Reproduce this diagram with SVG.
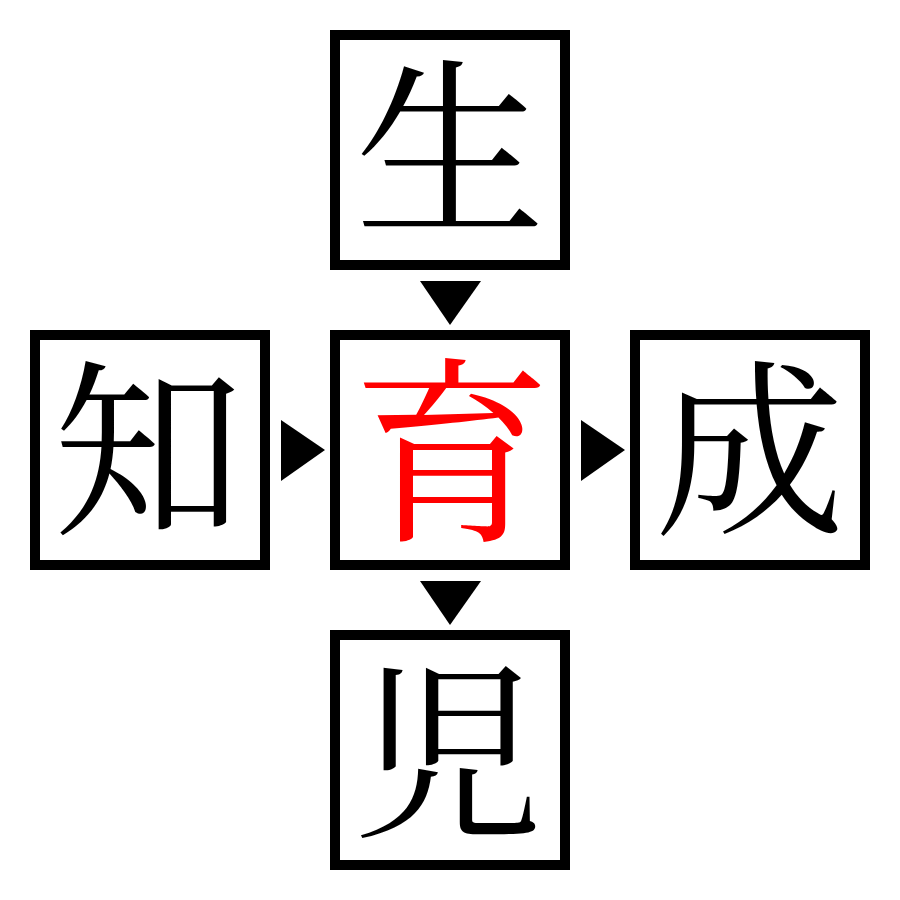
<svg xmlns="http://www.w3.org/2000/svg" width="900" height="900" viewBox="0 0 900 900">
<style>
.box{fill:#fff;stroke:#000;stroke-width:10}
.ch{font-family:"Noto Serif CJK JP","Noto Sans CJK JP",serif;font-size:190px;text-anchor:middle;fill:#000}
.red{fill:#ff0000;font-size:200px}
.arr{fill:#000}
</style>
<rect width="900" height="900" fill="#fff"/>
<g id="connectors">
<polygon class="arr" points="420,281 481,281 450,325"/>
<polygon class="arr" points="281,420 281,481 325,450"/>
<polygon class="arr" points="581,420 581,481 625,450"/>
<polygon class="arr" points="420,581 481,581 450,625"/>
</g>
<g id="node-sei">
<rect class="box" x="335" y="35" width="230" height="230"/>
<text class="ch" x="450" y="219">生</text>
</g>
<g id="node-chi">
<rect class="box" x="35" y="335" width="230" height="230"/>
<text class="ch" x="148" y="520">知</text>
</g>
<g id="node-iku">
<rect class="box" x="335" y="335" width="230" height="230"/>
<text class="ch red" x="452" y="526">育</text>
</g>
<g id="node-sei2">
<rect class="box" x="635" y="335" width="230" height="230"/>
<text class="ch" x="750" y="520">成</text>
</g>
<g id="node-ji">
<rect class="box" x="335" y="635" width="230" height="230"/>
<text class="ch" x="448" y="823">児</text>
</g>
</svg>
